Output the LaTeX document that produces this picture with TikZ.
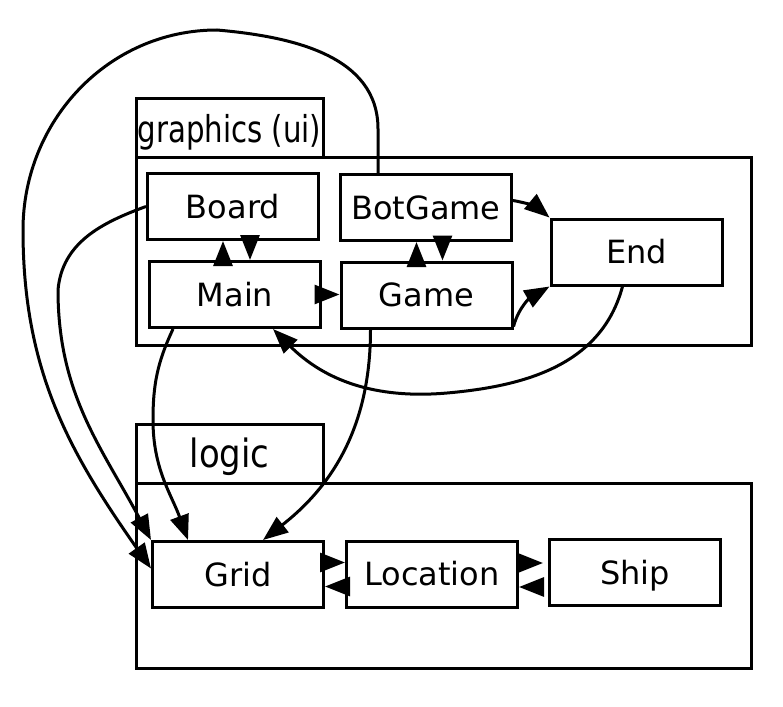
\documentclass[tikz,border=0pt]{standalone}
\usepackage{fontspec}
\setmainfont{DejaVu Sans}
\usepackage{graphicx}
\usetikzlibrary{arrows.meta}
\begin{document}
\begin{tikzpicture}[x=1pt,y=1pt,
  box/.style={draw, line width=3pt, minimum width=171pt, minimum height=66pt, inner sep=0pt,
    font=\fontsize{32}{38}\selectfont, text height=23.3pt, text depth=0pt},
  frame/.style={draw, line width=3pt, inner sep=0pt},
  head/.style={draw, line width=3pt, inner sep=0pt, minimum width=187pt,
    font=\fontsize{37}{43}\selectfont, text height=28pt, text depth=0pt},
  arr/.style={line width=3pt, -{Triangle[length=25pt,width=19pt]}},
]
\useasboundingbox (0,0) rectangle (783,-706);
% packages
\node[frame, minimum width=615pt, minimum height=188pt] (gframe) at (443.5,-251) {};
\node[head, minimum height=58pt] (ghead) at (229.5,-128) {\scalebox{0.79}[1]{graphics (ui)}};
\node[frame, minimum width=615pt, minimum height=185pt] (lframe) at (443.5,-575.5) {};
\node[head, minimum height=59pt] (lhead) at (229.5,-453.5) {\scalebox{0.87}[1]{\fontsize{39}{45}\selectfont logic}};
% classes
\node[box] (board) at (233,-206.5) {Board};
\node[box] (botgame) at (426,-207.5) {BotGame};
\node[box] (main) at (235,-294.5) {Main};
\node[box] (game) at (426.5,-295) {Game};
\node[box] (end) at (636.5,-252) {End};
\node[box] (grid) at (238,-574.5) {Grid};
\node[box] (loc) at (432,-574) {Location};
\node[box] (ship) at (635,-572.5) {Ship};
% helper points
\path ([xshift=-12pt]main.north) coordinate (m1)
      ([xshift=15pt]main.north) coordinate (m2)
      ([xshift=-10pt]game.north) coordinate (q1)
      ([xshift=16pt]game.north) coordinate (q2)
      ([yshift=12pt]grid.east) coordinate (g1)
      ([yshift=-12pt]grid.east) coordinate (g2)
      ([yshift=11pt]loc.east) coordinate (l1)
      ([yshift=-13pt]loc.east) coordinate (l2)
      ([xshift=-5pt]ship.west) coordinate (s0);
% connectors
\draw[arr] (m1) -- (m1 |- board.south);
\draw[arr] (m2 |- board.south) -- (m2);
\draw[arr] (q1) -- (q1 |- botgame.south);
\draw[arr] (q2 |- botgame.south) -- (q2);
\draw[arr] (main.east) -- (main.east -| game.west);
\draw[arr] ([yshift=7pt]botgame.east) to[out=-10,in=140] (end.north west);
\draw[arr] ([yshift=3pt]game.south east) to[out=75,in=210] (end.south west);
\draw[arr] ([xshift=-14pt]end.south) to[out=-105,in=5] (447,-393) to[out=185,in=-45] ([xshift=38pt]main.south);
\draw[arr] ([xshift=-62pt]main.south) to[out=-115,in=90] (153,-420) to[out=-90,in=110] ([xshift=-50pt]grid.north);
\draw[arr] ([xshift=-56pt]game.south) to[out=-90,in=38] ([xshift=25pt]grid.north);
\draw[arr] (board.west) to[out=200,in=85] (58,-290) to[out=-90,in=118] (grid.north west);
\draw[arr] ([xshift=-48pt]botgame.north) -- ++(0,44) to[out=90,in=-5] (217,-30)
  to[out=180,in=90] (23,-230) to[out=-90,in=125] ([yshift=6pt]grid.west);
\draw[arr] (g1) -- (g1 -| loc.west);
\draw[arr] (g2 -| loc.west) -- (g2);
\draw[arr] (l1) -- (l1 -| s0);
\draw[arr] (l2 -| s0) -- (l2);
\end{tikzpicture}
\end{document}
